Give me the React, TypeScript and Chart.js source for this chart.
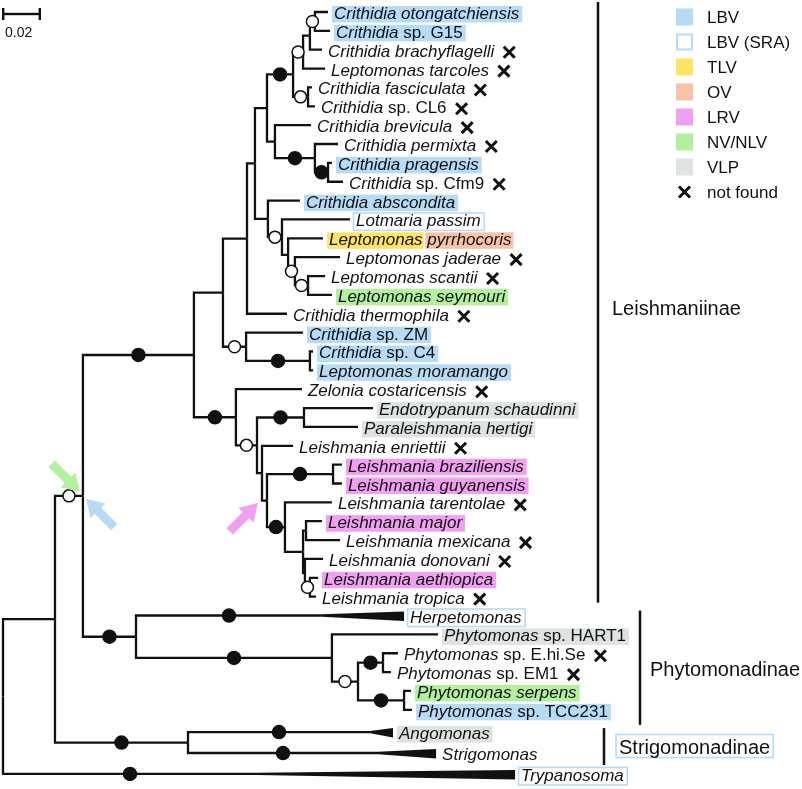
import React, { useEffect, useRef } from "react";
import { Chart, registerables } from "chart.js";
Chart.register(...registerables);

// ---------- DATA ----------
const leafNames = [
  "Crithidia otongatchiensis", "Crithidia sp. G15", "Crithidia brachyflagelli", "Leptomonas tarcoles",
  "Crithidia fasciculata", "Crithidia sp. CL6", "Crithidia brevicula", "Crithidia permixta",
  "Crithidia pragensis", "Crithidia sp. Cfm9", "Crithidia abscondita", "Lotmaria passim",
  "Leptomonas pyrrhocoris", "Leptomonas jaderae", "Leptomonas scantii", "Leptomonas seymouri",
  "Crithidia thermophila", "Crithidia sp. ZM", "Crithidia sp. C4", "Leptomonas moramango",
  "Zelonia costaricensis", "Endotrypanum schaudinni", "Paraleishmania hertigi", "Leishmania enriettii",
  "Leishmania braziliensis", "Leishmania guyanensis", "Leishmania tarentolae", "Leishmania major",
  "Leishmania mexicana", "Leishmania donovani", "Leishmania aethiopica", "Leishmania tropica",
  "Herpetomonas", "Phytomonas sp. HART1", "Phytomonas sp. E.hi.Se", "Phytomonas sp. EM1",
  "Phytomonas serpens", "Phytomonas sp. TCC231", "Angomonas", "Strigomonas", "Trypanosoma",
];
const leafRow = [
  0, 1, 2, 3, 4, 5, 6, 7, 8, 9, 10, 11, 12, 13, 14, 15, 16, 17, 18, 19,
  20, 21, 22, 23, 24, 25, 26, 27, 28, 29, 30, 31, 32, 33, 34, 35, 36, 37,
  38.18, 39.29, 40.4,
];
// tip depth (substitutions/site)
const leafDepth = [
  0.1757, 0.1768, 0.1724, 0.1741, 0.167, 0.1686, 0.1665, 0.1811, 0.1778, 0.1838,
  0.1605, 0.1876, 0.173, 0.1822, 0.1741, 0.1778, 0.1535, 0.1622, 0.1676, 0.1676,
  0.1616, 0.2, 0.1919, 0.1568, 0.1832, 0.1832, 0.1778, 0.1724, 0.1822, 0.173,
  0.1703, 0.1692, 0.2168, 0.2351, 0.2135, 0.2097, 0.2205, 0.2211, 0.2108, 0.2341, 0.2768,
];
const leafVirus = [
  "LBV", "LBV", "", "", "", "", "", "", "LBV", "",
  "LBV", "SRA", "TLV+OV", "", "", "NV", "", "LBV", "LBV", "LBV",
  "", "VLP", "VLP", "", "LRV", "LRV", "", "LRV", "", "",
  "LRV", "", "SRA", "VLP", "", "", "NV", "LBV", "VLP", "", "SRA",
];
const leafNotFound = [2, 3, 4, 5, 6, 7, 9, 13, 14, 16, 20, 23, 26, 28, 29, 31, 34, 35];

const nodeNames = [
  "root", "Y", "X", "L", "L1", "La", "H", "G", "C", "B", "E", "A", "D", "F", "Fp", "Q",
  "I", "J", "K", "M", "N", "Lb", "Lc", "L2", "L3", "L4", "L5", "L6", "L7", "L8", "L9",
  "Lmm", "Ldon", "L12", "Hn", "P", "P2", "P3", "P4", "AS", "cHerp", "cAng", "cStrig", "cTryp",
];
const nodeDepth = [
  0, 0.0281, 0.0432, 0.1032, 0.1189, 0.1319, 0.1362, 0.1427, 0.1568, 0.1622, 0.1659, 0.1686,
  0.1649, 0.147, 0.1686, 0.1757, 0.1432, 0.1508, 0.1541, 0.1578, 0.1649, 0.1314, 0.1659,
  0.1259, 0.1373, 0.1627, 0.14, 0.1427, 0.1784, 0.1524, 0.1622, 0.1638, 0.1632, 0.1659,
  0.0719, 0.1778, 0.1919, 0.2054, 0.2168, 0.1, 0.1724, 0.1984, 0.2027, 0.1373,
];
const nodeKids: (string | number)[][] = [
  ["Y", "cTryp"], ["X", "AS"], ["L", "Hn"], ["L1", "L2"], ["La", "Lb"], ["H", 16], ["G", "I"],
  ["C", "F"], ["B", "D"], ["E", 3], ["A", 2], [0, 1], [4, 5], [6, "Fp"], [7, "Q"], [8, 9],
  [10, "J"], [11, "K"], [12, "M"], [13, "N"], [14, 15], [17, "Lc"], [18, 19], [20, "L3"],
  ["L4", "L5"], [21, 22], [23, "L6"], ["L7", "L8"], [24, 25], [26, "L9"], ["Lmm", "Ldon"],
  [27, 28], [29, "L12"], [30, 31], ["cHerp", "P"], [33, "P2"], ["P3", "P4"], [34, 35], [36, 37],
  ["cAng", "cStrig"], [32], [38], [39], [40],
];
// "full" = filled circle, "open" = open circle
const nodeSupport = [
  "", "", "open", "full", "", "", "", "", "full", "open", "", "open", "open", "", "full", "full",
  "", "open", "", "open", "open", "open", "full", "full", "open", "full", "", "", "full", "full", "",
  "", "", "open", "full", "full", "open", "full", "full", "full", "full", "full", "full", "full",
];

const legendLabels = ["LBV", "LBV (SRA)", "TLV", "OV", "LRV", "NV/NLV", "VLP", "not found"];
const legendKeys = ["LBV", "SRA", "TLV", "OV", "LRV", "NV", "VLP", "X"];
const cladeNames = ["Leishmaniinae", "Phytomonadinae", "Strigomonadinae"];
const scaleBarValue = 0.02;

// ---------- STYLE ----------
const COLORS: Record<string, string> = {
  LBV: "rgb(183,218,245)",
  SRA: "rgb(183,218,245)",
  TLV: "rgb(255,228,100)",
  OV: "rgb(248,194,170)",
  LRV: "rgb(240,160,240)",
  NV: "rgb(178,240,160)",
  VLP: "rgb(222,226,226)",
};
const INK = "#111";
const FONT = '"Liberation Sans", Arial, Helvetica, sans-serif';

// ---------- TREE LAYOUT ----------
function buildTree() {
  const idx: Record<string, number> = {};
  nodeNames.forEach((n, i) => (idx[n] = i));
  const nodeY: number[] = new Array(nodeNames.length).fill(0);
  const parent: number[] = new Array(nodeNames.length).fill(-1);
  const yOf = (k: string | number): number => {
    if (typeof k === "number") return leafRow[k];
    const i = idx[k];
    const kids = nodeKids[i];
    const ys = kids.map(yOf);
    nodeY[i] = (ys[0] + ys[ys.length - 1]) / 2;
    kids.forEach((c) => {
      if (typeof c === "string") parent[idx[c]] = i;
    });
    return nodeY[i];
  };
  yOf("root");
  const edges: { x: number; y: number }[][] = [];
  const wedges: { x0: number; x1: number; y: number }[] = [];
  nodeNames.forEach((_, i) => {
    const kids = nodeKids[i];
    if (kids.length === 1 && typeof kids[0] === "number") {
      const leaf = kids[0] as number;
      wedges.push({ x0: nodeDepth[i], x1: leafDepth[leaf], y: leafRow[leaf] });
      return;
    }
    kids.forEach((c) => {
      const cx = typeof c === "number" ? leafDepth[c] : nodeDepth[idx[c]];
      const cy = typeof c === "number" ? leafRow[c] : nodeY[idx[c]];
      edges.push([
        { x: nodeDepth[i], y: nodeY[i] },
        { x: nodeDepth[i], y: cy },
        { x: cx, y: cy },
      ]);
    });
  });
  const circles: { x: number; y: number; full: boolean }[] = [];
  nodeNames.forEach((_, i) => {
    if (!nodeSupport[i] || parent[i] < 0) return;
    circles.push({
      x: (nodeDepth[parent[i]] + nodeDepth[i]) / 2,
      y: nodeY[i],
      full: nodeSupport[i] === "full",
    });
  });
  return { idx, nodeY, parent, edges, wedges, circles };
}

const W = 802;
const H = 789;
const PX_PER_UNIT = 1850;
const X_MIN = -3 / PX_PER_UNIT;
const X_MAX = X_MIN + W / PX_PER_UNIT;
const ROW_PX = 18.86;
const Y_MIN = -12 / ROW_PX;
const Y_MAX = Y_MIN + H / ROW_PX;

function drawX(ctx: CanvasRenderingContext2D, cx: number, cy: number, s = 5.5) {
  ctx.save();
  ctx.strokeStyle = INK;
  ctx.lineWidth = 3;
  ctx.lineCap = "butt";
  ctx.beginPath();
  ctx.moveTo(cx - s, cy - s);
  ctx.lineTo(cx + s, cy + s);
  ctx.moveTo(cx + s, cy - s);
  ctx.lineTo(cx - s, cy + s);
  ctx.stroke();
  ctx.restore();
}

function drawArrow(ctx: CanvasRenderingContext2D, tx: number, ty: number, dx: number, dy: number, color: string) {
  const len = Math.hypot(dx, dy);
  const ux = dx / len, uy = dy / len;
  const nx = -uy, ny = ux;
  const L = 40, hl = 17, hw = 10.5, sw = 4.5;
  const P = (a: number, b: number) => [tx - ux * a + nx * b, ty - uy * a + ny * b];
  const pts = [P(0, 0), P(hl, hw), P(hl, sw), P(L, sw), P(L, -sw), P(hl, -sw), P(hl, -hw)];
  ctx.save();
  ctx.fillStyle = color;
  ctx.beginPath();
  pts.forEach((p, i) => (i ? ctx.lineTo(p[0], p[1]) : ctx.moveTo(p[0], p[1])));
  ctx.closePath();
  ctx.fill();
  ctx.restore();
}

export default function App() {
  const ref = useRef<HTMLCanvasElement>(null);
  useEffect(() => {
    const tree = buildTree();
    const datasets: any[] = [];
    datasets.push({
      data: tree.circles.map((c) => ({ x: c.x, y: c.y })),
      showLine: false,
      pointRadius: tree.circles.map((c) => (c.full ? 6.5 : 6)),
      pointBackgroundColor: tree.circles.map((c) => (c.full ? INK : "#fff")),
      pointBorderColor: INK,
      pointBorderWidth: 1.5,
      order: 0,
    });
    tree.edges.forEach((e) =>
      datasets.push({
        data: e,
        showLine: true,
        borderColor: INK,
        borderWidth: 2.3,
        pointRadius: 0,
        borderJoinStyle: "miter",
        borderCapStyle: "butt",
        tension: 0,
        order: 1,
      })
    );

    const plugin = {
      id: "treeDecor",
      afterDatasetsDraw(chart: any) {
        const ctx: CanvasRenderingContext2D = chart.ctx;
        const xs = chart.scales.x, ys = chart.scales.y;
        const px = (d: number) => xs.getPixelForValue(d);
        const py = (r: number) => ys.getPixelForValue(r);
        ctx.save();
        // wedges (collapsed clades)
        ctx.fillStyle = INK;
        tree.wedges.forEach((w) => {
          const y = py(w.y);
          ctx.beginPath();
          ctx.moveTo(px(w.x0), y - 1.15);
          ctx.lineTo(px(w.x1), y - 4);
          ctx.lineTo(px(w.x1), y + 5.5);
          ctx.lineTo(px(w.x0), y + 1.15);
          ctx.closePath();
          ctx.fill();
        });
        // leaf labels
        ctx.textBaseline = "alphabetic";
        ctx.textAlign = "left";
        leafNames.forEach((name, i) => {
          const lineY = py(leafRow[i]);
          const x0 = px(leafDepth[i]) + 6;
          const base = lineY + 7;
          let parts: { t: string; it: boolean }[];
          const sp = name.indexOf(" sp. ");
          if (sp >= 0) parts = [{ t: name.slice(0, sp), it: true }, { t: name.slice(sp), it: false }];
          else if (leafVirus[i] === "TLV+OV") {
            const s = name.indexOf(" ");
            parts = [{ t: name.slice(0, s), it: true }, { t: name.slice(s), it: true }];
          } else parts = [{ t: name, it: true }];
          const widths = parts.map((p) => {
            ctx.font = `${p.it ? "italic " : ""}17px ${FONT}`;
            return ctx.measureText(p.t).width;
          });
          const total = widths.reduce((a, b) => a + b, 0);
          const v = leafVirus[i];
          const top = lineY - 6, hgt = 16.5;
          if (v === "TLV+OV") {
            ctx.fillStyle = COLORS.TLV;
            ctx.fillRect(x0 - 2, top, widths[0] + 3, hgt);
            const sw = ctx.measureText(" ").width;
            ctx.fillStyle = COLORS.OV;
            ctx.fillRect(x0 + widths[0] + sw - 2, top, widths[1] - sw + 4, hgt);
          } else if (v === "SRA") {
            ctx.strokeStyle = COLORS.SRA;
            ctx.lineWidth = 1.6;
            ctx.strokeRect(x0 - 2.5, top - 0.5, total + 6, hgt + 1);
          } else if (v) {
            ctx.fillStyle = COLORS[v];
            ctx.fillRect(x0 - 2, top, total + 5, hgt);
          }
          ctx.fillStyle = INK;
          let x = x0;
          parts.forEach((p, k) => {
            ctx.font = `${p.it ? "italic " : ""}17px ${FONT}`;
            ctx.fillText(p.t, x, base);
            x += widths[k];
          });
          if (leafNotFound.includes(i)) drawX(ctx, x0 + total + 15, lineY + 2.5);
        });

        // clade bars
        ctx.fillStyle = INK;
        const bar = (x: number, y0: number, y1: number) => ctx.fillRect(x - 1.25, y0, 2.5, y1 - y0);
        bar(598, py(0) - 10, py(31) + 6);
        bar(640, py(32) - 5, py(37) + 15);
        bar(604, py(38.18) - 4, py(39.29) + 12);
        ctx.font = `20px ${FONT}`;
        ctx.fillStyle = INK;
        ctx.fillText(cladeNames[0], 612, py(15.7) + 7);
        ctx.fillText(cladeNames[1], 650, py(34.85) + 7);
        const sw = ctx.measureText(cladeNames[2]).width;
        const sy = (py(38.18) + py(39.29)) / 2 + 4;
        ctx.strokeStyle = COLORS.SRA;
        ctx.lineWidth = 1.6;
        ctx.strokeRect(616, sy - 12, sw + 6, 23);
        ctx.fillText(cladeNames[2], 619, sy + 7);

        // scale bar
        const sx0 = px(0), sx1 = px(scaleBarValue);
        ctx.fillStyle = INK;
        ctx.fillRect(sx0 - 1, 12.8, sx1 - sx0 + 2, 2.4);
        ctx.fillRect(sx0 - 1, 8, 2.4, 12);
        ctx.fillRect(sx1 - 1.4, 8, 2.4, 12);
        ctx.font = `14px ${FONT}`;
        ctx.fillText(String(scaleBarValue), 5, 37);

        // arrows
        const xi = tree.idx["X"];
        const ax = px(nodeDepth[xi]), ay = py(tree.nodeY[xi]);
        drawArrow(ctx, ax - 3, ay - 4, 1, 1, "rgb(180,240,160)");
        drawArrow(ctx, ax + 3, ay + 3, -1, -1, "rgb(183,218,245)");
        const l6 = tree.idx["L6"];
        drawArrow(ctx, px(nodeDepth[tree.parent[l6]]) - 4, py(tree.nodeY[l6]) + 2.5, 1, -1, "rgb(240,160,240)");

        // legend
        legendLabels.forEach((lab, k) => {
          const cy = 17 + 25 * k;
          const key = legendKeys[k];
          if (key === "X") drawX(ctx, 684.5, cy);
          else if (key === "SRA") {
            ctx.fillStyle = "#fff";
            ctx.fillRect(676, cy - 8.5, 17, 17);
            ctx.strokeStyle = COLORS.SRA;
            ctx.lineWidth = 2;
            ctx.strokeRect(677, cy - 7.5, 15, 15);
          } else {
            ctx.fillStyle = COLORS[key];
            ctx.fillRect(676, cy - 8.5, 17, 17);
          }
          ctx.fillStyle = INK;
          ctx.font = `17px ${FONT}`;
          ctx.fillText(lab, 707, cy + 6);
        });
        ctx.restore();
      },
    };

    const chart = new Chart(ref.current!, {
      type: "scatter",
      data: { datasets },
      options: {
        responsive: false,
        animation: false,
        devicePixelRatio: 1,
        events: [],
        layout: { padding: 0, autoPadding: false } as any,
        plugins: { legend: { display: false }, tooltip: { enabled: false } },
        scales: {
          x: { type: "linear", min: X_MIN, max: X_MAX, display: false },
          y: { type: "linear", min: Y_MIN, max: Y_MAX, reverse: true, display: false },
        },
      },
      plugins: [plugin],
    });
    return () => chart.destroy();
  }, []);
  return (
    <div style={{ position: "fixed", left: 0, top: 0, width: W, height: H, background: "#fff" }}>
      <canvas ref={ref} width={W} height={H} />
    </div>
  );
}
